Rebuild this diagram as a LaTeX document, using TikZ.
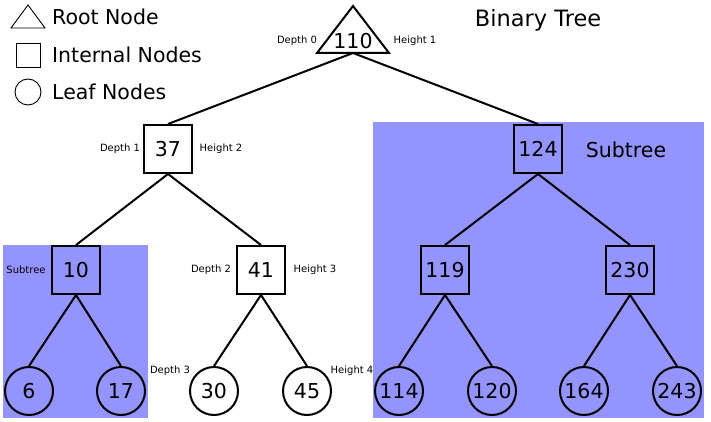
\documentclass[tikz,border=0pt]{standalone}
\usepackage{fontspec}
\setmainfont{DejaVu Sans}
\usepackage{xcolor}
\usepackage{tikz}

\definecolor{subblue}{RGB}{148,148,255}
\newcommand{\bigfont}{\fontsize{20.5}{24}\selectfont}
\newcommand{\titlefont}{\fontsize{22.5}{26}\selectfont}
\newcommand{\tinyfont}{\fontsize{10}{12}\selectfont}

\begin{document}
\begin{tikzpicture}[x=1pt, y=-1pt,
      inner/.style={draw, rectangle, minimum size=48pt, inner sep=0pt, line width=2pt, font=\bigfont},
      leaf/.style={draw, circle, minimum size=48pt, inner sep=0pt, line width=2pt, font=\bigfont},
      lbl/.style={font=\tinyfont, inner sep=0pt},
      edge/.style={line width=2pt},
    ]
    \useasboundingbox (0,0) rectangle (711,422);
    % subtree backgrounds
    \fill[subblue] (3,245) rectangle (148,418);
    \fill[subblue] (373,122) rectangle (704,418);

    % legend
    \draw[line width=0.9pt] (28,5) -- (45,28) -- (11,28) -- cycle;
    \draw[line width=0.9pt] (16,43) rectangle (40,67);
    \draw[line width=0.9pt] (28,92) circle (13);
    \node[anchor=west, font=\bigfont, inner sep=0pt] (legroot) at (52,17) {Root Node};
    \node[anchor=west, font=\bigfont, inner sep=0pt] (leginner) at (52,55) {Internal Nodes};
    \node[anchor=west, font=\bigfont, inner sep=0pt] (legleaf) at (52,92) {Leaf Nodes};
    \node[font=\titlefont] (title) at (538,20) {Binary Tree};

    % root
    \draw[line width=2pt] (353,6) -- (389,53) -- (317,53) -- cycle;
    \node[font=\bigfont, inner sep=0pt] (root) at (353,41) {110};
    \coordinate (rootb) at (353,53);

    % internal nodes
    \node[inner] (n37) at (168,149) {37};
    \node[inner] (n124) at (538,149) {124};
    \node[inner] (n10) at (76,270) {10};
    \node[inner] (n41) at (261,270) {41};
    \node[inner] (n119) at (445,270) {119};
    \node[inner] (n230) at (630,270) {230};

    % leaves
    \node[leaf] (n6) at (29,391) {6};
    \node[leaf] (n17) at (121,391) {17};
    \node[leaf] (n30) at (214,391) {30};
    \node[leaf] (n45) at (307,391) {45};
    \node[leaf] (n114) at (399,391) {114};
    \node[leaf] (n120) at (492,391) {120};
    \node[leaf] (n164) at (584,391) {164};
    \node[leaf] (n243) at (677,391) {243};

    % labels
    \node[lbl] (d0) at (297,41) {Depth 0};
    \node[lbl] (h1) at (415,41) {Height 1};
    \node[lbl] (d1) at (120,149) {Depth 1};
    \node[lbl] (h2) at (221,149) {Height 2};
    \node[lbl] (d2) at (211,270) {Depth 2};
    \node[lbl] (h3) at (315,270) {Height 3};
    \node[lbl] (d3) at (170,371) {Depth 3};
    \node[lbl] (h4) at (352,371) {Height 4};
    \node[lbl] (sub1) at (26,270) {Subtree};
    \node[font=\bigfont] (sub2) at (626,150) {Subtree};

    % edges
    \draw[edge] (rootb) -- (n37.north);
    \draw[edge] (rootb) -- (n124.north);
    \draw[edge] (n37.south) -- (n10.north);
    \draw[edge] (n37.south) -- (n41.north);
    \draw[edge] (n124.south) -- (n119.north);
    \draw[edge] (n124.south) -- (n230.north);
    \draw[edge] (n10.south) -- (n6.north);
    \draw[edge] (n10.south) -- (n17.north);
    \draw[edge] (n41.south) -- (n30.north);
    \draw[edge] (n41.south) -- (n45.north);
    \draw[edge] (n119.south) -- (n114.north);
    \draw[edge] (n119.south) -- (n120.north);
    \draw[edge] (n230.south) -- (n164.north);
    \draw[edge] (n230.south) -- (n243.north);
  \end{tikzpicture}
\end{document}
